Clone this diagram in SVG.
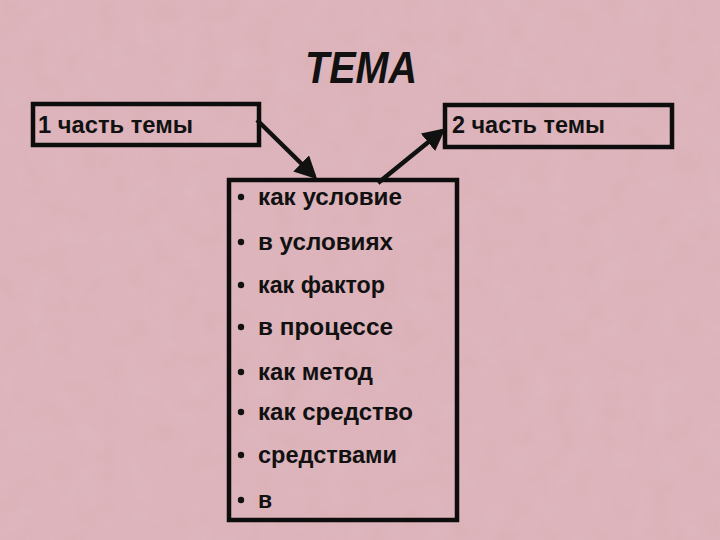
<svg xmlns="http://www.w3.org/2000/svg" width="720" height="540" viewBox="0 0 720 540">
<style>
.t{font-family:"Liberation Sans",Arial,sans-serif;font-weight:bold;font-size:23px;fill:#111}
.ti{font-family:"Liberation Sans",Arial,sans-serif;font-weight:bold;font-style:italic;font-size:45px;fill:#111}
.box{fill:none;stroke:#0d0d0d;stroke-width:4.5}
.ln{stroke:#111;stroke-width:4.5;fill:none}
.dot{fill:#111}
</style>
<defs>
<filter id="tex" x="0" y="0" width="100%" height="100%">
<feTurbulence type="fractalNoise" baseFrequency="0.04" numOctaves="3" seed="4"/>
<feColorMatrix values="0 0 0 0 0.80  0 0 0 0 0.62  0 0 0 0 0.66  0 0 0 0.18 0"/>
<feComposite in2="SourceGraphic" operator="over"/>
</filter>
<marker id="ah" markerWidth="5" markerHeight="5" refX="4" refY="2.5" orient="auto" markerUnits="strokeWidth">
<path d="M0,0 L5,2.5 L0,5 z" fill="#111"/>
</marker>
</defs>
<rect width="720" height="540" fill="#DCB1B8" filter="url(#tex)"/>
<g id="title"><text class="ti" x="305" y="83" textLength="112" lengthAdjust="spacingAndGlyphs">ТЕМА</text></g>
<g id="part1"><rect class="box" x="33" y="104" width="226" height="41"/><text class="t" x="38" y="133" textLength="155" lengthAdjust="spacingAndGlyphs">1 часть темы</text></g>
<g id="part2"><rect class="box" x="445" y="105" width="227" height="42"/><text class="t" x="452" y="133" textLength="153" lengthAdjust="spacingAndGlyphs">2 часть темы</text></g>
<g id="list">
<rect class="box" x="229" y="180" width="228" height="340"/>
<g class="dot"><circle cx="241" cy="197" r="3.2"/><circle cx="241" cy="242" r="3.2"/><circle cx="241" cy="285" r="3.2"/><circle cx="241" cy="327" r="3.2"/><circle cx="241" cy="372" r="3.2"/><circle cx="241" cy="412" r="3.2"/><circle cx="241" cy="455" r="3.2"/><circle cx="241" cy="500" r="3.2"/></g>
<text class="t" x="258" y="205" textLength="144" lengthAdjust="spacingAndGlyphs">как условие</text>
<text class="t" x="258" y="250" textLength="135" lengthAdjust="spacingAndGlyphs">в условиях</text>
<text class="t" x="258" y="293" textLength="127" lengthAdjust="spacingAndGlyphs">как фактор</text>
<text class="t" x="258" y="335" textLength="135" lengthAdjust="spacingAndGlyphs">в процессе</text>
<text class="t" x="258" y="380" textLength="115" lengthAdjust="spacingAndGlyphs">как метод</text>
<text class="t" x="258" y="420" textLength="155" lengthAdjust="spacingAndGlyphs">как средство</text>
<text class="t" x="258" y="463" textLength="139" lengthAdjust="spacingAndGlyphs">средствами</text>
<text class="t" x="258" y="508">в</text>
</g>
<g id="connectors">
<line class="ln" x1="257" y1="120" x2="314" y2="176" marker-end="url(#ah)"/>
<line class="ln" x1="378" y1="183" x2="442" y2="131" marker-end="url(#ah)"/>
</g>
</svg>
